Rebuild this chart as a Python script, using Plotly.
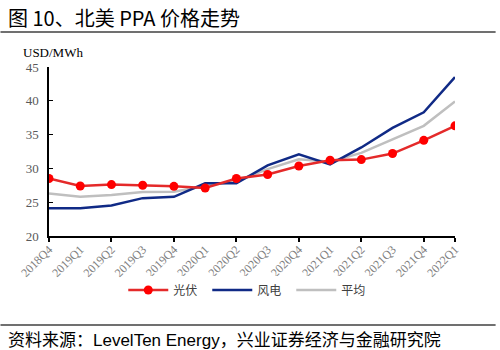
import plotly.graph_objects as go

quarters = ["2018Q4", "2019Q1", "2019Q2", "2019Q3", "2019Q4", "2020Q1", "2020Q2",
            "2020Q3", "2020Q4", "2021Q1", "2021Q2", "2021Q3", "2021Q4", "2022Q1"]
solar = [28.5, 27.4, 27.6, 27.5, 27.35, 27.1, 28.5, 29.1, 30.35, 31.2, 31.3, 32.2, 34.15, 36.3]
wind = [24.1, 24.1, 24.5, 25.6, 25.8, 27.8, 27.8, 30.45, 32.1, 30.6, 33.1, 36.0, 38.3, 43.5]
avg = [26.3, 25.8, 26.05, 26.5, 26.55, 27.4, 28.1, 29.9, 31.35, 31.0, 32.3, 34.3, 36.3, 39.9]
y_ticks = [20, 25, 30, 35, 40, 45]

idx = list(range(len(quarters)))

fig = go.Figure()
fig.add_trace(go.Scatter(x=idx, y=avg, mode="lines", name="平均",
                         line=dict(color="#BFBFBF", width=2.5), legendrank=3))
fig.add_trace(go.Scatter(x=idx, y=wind, mode="lines", name="风电",
                         line=dict(color="#102A86", width=2.5), legendrank=2))
fig.add_trace(go.Scatter(x=idx, y=solar, mode="lines+markers", name="光伏",
                         line=dict(color="#E42A2A", width=2.5),
                         marker=dict(color="#FF0000", size=9), legendrank=1))

cjk = "Noto Sans CJK SC"
serif = "Liberation Serif"

fig.update_layout(
    width=500, height=350,
    margin=dict(l=49, r=45, t=67, b=114),
    paper_bgcolor="white", plot_bgcolor="white",
    showlegend=True,
    legend=dict(orientation="h", x=(124 - 49) / 410, xanchor="left", y=-(290 - 236) / 169,
                yanchor="middle",
                font=dict(family=cjk, size=12, color="#404040"),
                itemwidth=40, tracegroupgap=0, entrywidth=29, entrywidthmode="pixels"),
    xaxis=dict(range=[0, 13], tickmode="array", tickvals=idx, ticktext=quarters,
               tickangle=-45, showgrid=False, zeroline=False,
               showline=True, linecolor="#000000", linewidth=1.5,
               ticks="", tickfont=dict(family=serif, size=12, color="#7F7F7F"),
               minor=dict(tickmode="array", tickvals=idx[::2] + [13], ticks="outside",
                          ticklen=4, tickcolor="#000000", tickwidth=1.5, showgrid=False)),
    yaxis=dict(range=[20, 45], tickmode="array", tickvals=y_ticks,
               showgrid=False, zeroline=False, showline=True, linecolor="#000000",
               linewidth=1.5, ticks="inside", ticklen=4, tickcolor="#000000",
               ticklabelstandoff=6,
               tickfont=dict(family=serif, size=13, color="#595959")),
)

fig.add_annotation(text="图 10、北美 PPA 价格走势", xref="paper", yref="paper",
                   x=-43/410, y=1 + (67 - 17) / 169, xanchor="left", yanchor="middle",
                   showarrow=False, font=dict(family=cjk, size=20, color="#000000"))
fig.add_annotation(text="USD/MWh", xref="paper", yref="paper",
                   x=-28/410, y=1 + (67 - 52) / 169, xanchor="left", yanchor="middle",
                   showarrow=False, font=dict(family=serif, size=13, color="#000000"))
fig.add_annotation(text="资料来源：<span style='font-family:Liberation Sans'>LevelTen Energy</span>，兴业证券经济与金融研究院",
                   xref="paper", yref="paper",
                   x=-43/410, y=-(338 - 236) / 169, xanchor="left", yanchor="middle",
                   showarrow=False, font=dict(family=cjk, size=17, color="#000000"))

fig.add_shape(type="line", xref="paper", yref="paper", x0=-49/410, x1=451/410,
              y0=1 + (67 - 32) / 169, y1=1 + (67 - 32) / 169,
              line=dict(color="#404040", width=1.5))
fig.add_shape(type="line", xref="paper", yref="paper", x0=-49/410, x1=451/410,
              y0=-(325 - 236) / 169, y1=-(325 - 236) / 169,
              line=dict(color="#404040", width=1.5))

fig.write_html("out.html")
